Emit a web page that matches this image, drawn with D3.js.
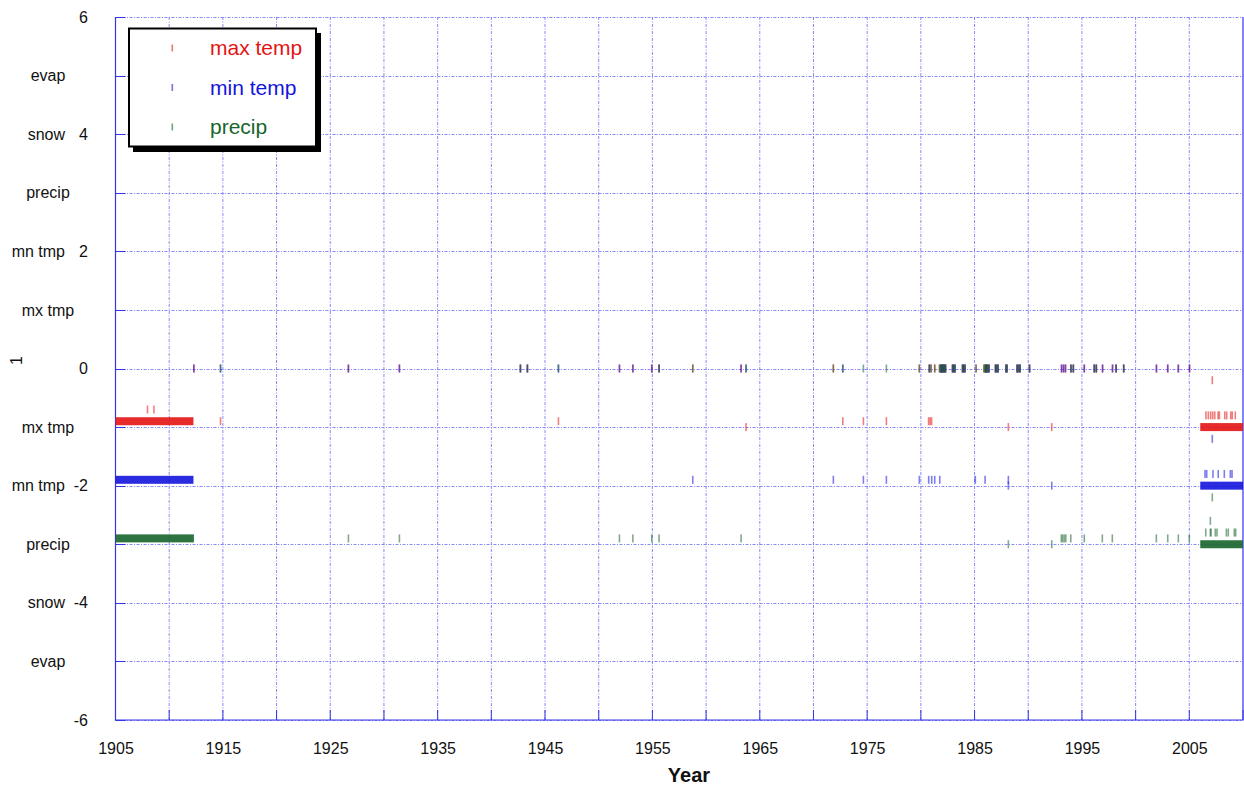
<!DOCTYPE html>
<html>
<head>
<meta charset="utf-8">
<script src="https://cdn.jsdelivr.net/npm/d3@7"></script>
<style>
  body { margin: 0; background: #fff; }
  svg { display: block; font-family: 'Liberation Sans', Arial, Helvetica, sans-serif; }
</style>
</head>
<body>
<div id="chart"></div>
<script>
// axis content
const xDomain = [1905, 2010];
const yDomain = [-6, 6];
const xTickYears = [1905, 1915, 1925, 1935, 1945, 1955, 1965, 1975, 1985, 1995, 2005];
const yTickValues = [-6, -4, -2, 0, 2, 4, 6];
const rowLabelValues = [5, 4, 3, 2, 1, -1, -2, -3, -4, -5];
const rowLabelNames = ['evap', 'snow', 'precip', 'mn tmp', 'mx tmp', 'mx tmp', 'mn tmp', 'precip', 'snow', 'evap'];

const seriesNames = ['max temp', 'min temp', 'precip'];
const seriesColors = ['#e41414', '#1414dc', '#17652c'];

// continuous runs of daily flags: [start, end, value]
const maxTempRuns = [[1905, 1912.26, -0.9], [2006.02, 2010, -1.0]];
const minTempRuns = [[1905, 1912.26, -1.9], [2006.02, 2010, -2.0]];
const precipRuns = [[1905, 1912.3, -2.9], [2006.02, 2010, -3.0]];

// single flags sitting on the zero row
const maxTempZeroYears = [1912.30, 1926.69, 1931.44, 1942.71, 1943.36, 1951.93, 1953.18, 1954.94, 1955.62,
  1958.76, 1963.26, 1971.85, 1979.86, 1980.79, 1980.95, 1981.29, 1981.74, 1981.85, 1981.93, 1982.02,
  1982.11, 1982.20, 1982.30, 1982.95, 1983.05, 1983.18, 1983.88, 1983.98, 1984.11, 1985.14, 1985.88,
  1985.98, 1986.05, 1986.12, 1986.22, 1986.35, 1986.95, 1987.05, 1987.19, 1987.93, 1988.02, 1988.96,
  1989.10, 1989.24, 1990.12, 1993.10, 1993.29, 1993.47, 1993.98, 1994.20, 1995.22, 1996.15, 1996.34,
  1996.92, 1997.85, 1998.18, 1998.89, 2001.94, 2002.99, 2003.98, 2005.02];
const minTempZeroYears = [1912.30, 1914.78, 1926.69, 1931.44, 1942.71, 1943.36, 1946.25, 1951.93, 1953.18,
  1954.94, 1955.62, 1963.26, 1963.72, 1972.73, 1980.79, 1981.85, 1981.93, 1982.02, 1982.11, 1982.20,
  1982.30, 1982.95, 1983.05, 1983.18, 1983.88, 1983.98, 1984.11, 1986.05, 1986.12, 1986.22, 1986.35,
  1986.95, 1987.05, 1987.19, 1987.93, 1988.02, 1988.96, 1989.10, 1989.24, 1990.12, 1993.10, 1993.29,
  1993.47, 1993.98, 1994.20, 1995.22, 1996.15, 1996.34, 1996.92, 1997.85, 1998.18, 1998.89, 2001.94,
  2002.99, 2003.98, 2005.02];
const precipZeroYears = [1914.78, 1942.71, 1943.36, 1946.25, 1955.62, 1958.76, 1963.72, 1971.85, 1972.73,
  1974.65, 1976.79, 1979.86, 1980.79, 1980.95, 1981.29, 1981.74, 1981.85, 1981.93, 1982.02, 1982.11,
  1982.20, 1982.30, 1982.95, 1983.05, 1983.18, 1983.88, 1983.98, 1984.11, 1985.14, 1985.88, 1985.98,
  1986.05, 1986.12, 1986.22, 1986.35, 1986.95, 1987.05, 1987.19, 1987.93, 1988.02, 1988.96, 1989.10,
  1989.24, 1990.12, 1993.98, 1994.20, 1996.15, 1996.34, 1998.18, 1998.89];

// single flags away from zero: [year, value]
const maxTempFlags = [[1907.98, -0.7], [1908.58, -0.7], [1914.78, -0.9], [1946.25, -0.9], [1963.72, -1.0],
  [1972.73, -0.9], [1974.65, -0.9], [1976.79, -0.9], [1980.72, -0.9], [1980.86, -0.9], [1981.0, -0.9],
  [1988.15, -1.0], [1992.19, -1.0], [2007.14, -0.2],
  [2006.55, -0.8], [2006.77, -0.8], [2006.99, -0.8], [2007.18, -0.8], [2007.37, -0.8], [2007.68, -0.8],
  [2007.80, -0.8], [2008.30, -0.8], [2008.48, -0.8], [2008.86, -0.8], [2009.00, -0.8], [2009.28, -0.8]];
const minTempFlags = [[1958.76, -1.9], [1971.85, -1.9], [1974.65, -1.9], [1976.79, -1.9], [1979.86, -1.9],
  [1980.73, -1.9], [1981.01, -1.9], [1981.29, -1.9], [1981.76, -1.9], [1985.07, -1.9], [1985.98, -1.9],
  [1988.15, -1.9], [1988.15, -2.0], [1992.19, -2.0], [2007.14, -1.2],
  [2006.46, -1.8], [2006.62, -1.8], [2007.20, -1.8], [2007.69, -1.8], [2008.26, -1.8], [2008.82, -1.8],
  [2008.98, -1.8]];
const precipFlags = [[1926.69, -2.9], [1931.44, -2.9], [1951.93, -2.9], [1953.18, -2.9], [1954.94, -2.9],
  [1955.62, -2.9], [1963.26, -2.9], [1988.15, -3.0], [1992.19, -3.0], [1993.08, -2.9], [1993.20, -2.9],
  [1993.35, -2.9], [1993.50, -2.9], [1993.96, -2.9], [1995.22, -2.9], [1996.90, -2.9], [1997.83, -2.9],
  [2001.93, -2.9], [2002.99, -2.9], [2003.98, -2.9], [2005.00, -2.9], [2006.96, -2.6], [2007.14, -2.2],
  [2006.53, -2.8], [2006.96, -2.8], [2007.02, -2.8], [2007.42, -2.8], [2007.58, -2.8], [2008.45, -2.8],
  [2008.63, -2.8], [2009.19, -2.8], [2009.32, -2.8]];

const width = 1244;
const height = 786;
const plot = { left: 115.5, right: 1243, top: 17, bottom: 720 };
const gridColor = '#6a6af2';
const frameColor = '#3434e6';
const fontFamily = "'Liberation Sans', Arial, sans-serif";

const svg = d3.select('#chart').append('svg')
  .attr('width', width)
  .attr('height', height);

const x = d3.scaleLinear().domain(xDomain).range([plot.left, plot.right]);
const y = d3.scaleLinear().domain(yDomain).range([plot.bottom, plot.top]);

// grid
const grid = svg.append('g').attr('class', 'grid');
grid.selectAll('.grid-y').data(y.ticks(12))
  .join('line')
  .attr('class', 'grid-y')
  .attr('x1', plot.left).attr('x2', plot.right)
  .attr('y1', (d) => Math.round(y(d)) + 0.5).attr('y2', (d) => Math.round(y(d)) + 0.5)
  .attr('stroke', gridColor)
  .attr('stroke-width', 0.8)
  .attr('stroke-dasharray', '3,1.5,1,1.5');

grid.selectAll('.grid-x').data(x.ticks(21).filter((d) => d > xDomain[0] && d < xDomain[1]))
  .join('line')
  .attr('class', 'grid-x')
  .attr('y1', plot.top).attr('y2', plot.bottom)
  .attr('x1', (d) => x(d)).attr('x2', (d) => x(d))
  .attr('stroke', gridColor)
  .attr('stroke-width', 0.8)
  .attr('stroke-dasharray', '3,1.5,1,1.5');

// short inner ticks
grid.selectAll('.tick-y').data(y.ticks(12))
  .join('line')
  .attr('x1', plot.left).attr('x2', plot.left + 10)
  .attr('y1', (d) => Math.round(y(d)) + 0.5).attr('y2', (d) => Math.round(y(d)) + 0.5)
  .attr('stroke', frameColor).attr('stroke-width', 1);
grid.selectAll('.tick-x').data(x.ticks(21))
  .join('line')
  .attr('y1', plot.bottom).attr('y2', plot.bottom - 10)
  .attr('x1', (d) => x(d)).attr('x2', (d) => x(d))
  .attr('stroke', frameColor).attr('stroke-width', 1);

// frame: solid left, bottom, right
svg.append('path')
  .attr('d', `M${plot.left},${plot.top}V${plot.bottom}H${plot.right}V${plot.top}`)
  .attr('fill', 'none')
  .attr('stroke', frameColor)
  .attr('stroke-width', 1.2);

// marks
const marks = svg.append('g').attr('class', 'marks');
const runSets = [maxTempRuns, minTempRuns, precipRuns];
const zeroSets = [maxTempZeroYears, minTempZeroYears, precipZeroYears];
const flagSets = [maxTempFlags, minTempFlags, precipFlags];
const tickHalf = 4;

seriesNames.forEach((name, i) => {
  const g = marks.append('g').attr('class', `series-${i}`);
  g.selectAll('rect.run').data(runSets[i])
    .join('rect')
    .attr('class', 'run')
    .attr('x', (d) => x(d[0]))
    .attr('width', (d) => x(d[1]) - x(d[0]))
    .attr('y', (d) => y(d[2]) - tickHalf)
    .attr('height', tickHalf * 2)
    .attr('fill', seriesColors[i])
    .attr('opacity', 0.9);

  const points = zeroSets[i].map((yr) => [yr, 0]).concat(flagSets[i]);
  g.selectAll('rect.flag').data(points)
    .join('rect')
    .attr('class', 'flag')
    .attr('x', (d) => x(d[0]) - 0.8)
    .attr('width', 1.6)
    .attr('y', (d) => y(d[1]) - tickHalf)
    .attr('height', tickHalf * 2)
    .attr('fill', seriesColors[i])
    .attr('opacity', 0.55);
});

// axes text
const xAxis = svg.append('g')
  .attr('transform', `translate(0,${plot.bottom + 20})`)
  .call(d3.axisBottom(x).tickValues(xTickYears).tickFormat((d) => String(d)).tickSize(0));
xAxis.select('.domain').remove();
xAxis.selectAll('text')
  .attr('font-size', 16)
  .attr('font-family', fontFamily)
  .attr('fill', '#111');

const yAxis = svg.append('g')
  .attr('transform', 'translate(88,0)')
  .call(d3.axisLeft(y).tickValues(yTickValues).tickFormat((d) => String(d)).tickSize(0).tickPadding(0));
yAxis.select('.domain').remove();
yAxis.selectAll('text')
  .attr('font-size', 16)
  .attr('font-family', fontFamily)
  .attr('fill', '#111');

svg.append('g').selectAll('text').data(rowLabelValues)
  .join('text')
  .attr('x', (d) => (d % 2 === 0 ? 65 : 48))
  .attr('y', (d) => y(d))
  .attr('dy', '0.35em')
  .attr('text-anchor', (d) => (d % 2 === 0 ? 'end' : 'middle'))
  .attr('font-size', 16)
  .attr('fill', '#111')
  .text((d, i) => rowLabelNames[i]);

svg.append('text')
  .attr('transform', `translate(22,${y(0) - 8}) rotate(-90)`)
  .attr('text-anchor', 'middle')
  .attr('font-size', 16)
  .attr('fill', '#111')
  .text('1');

svg.append('text')
  .attr('x', 689)
  .attr('y', 782)
  .attr('text-anchor', 'middle')
  .attr('font-size', 20)
  .attr('font-weight', 'bold')
  .attr('fill', '#111')
  .text('Year');

// legend
const legend = svg.append('g').attr('class', 'legend');
legend.append('rect')
  .attr('x', 133).attr('y', 33).attr('width', 188).attr('height', 119)
  .attr('fill', '#000');
legend.append('rect')
  .attr('x', 129).attr('y', 28.5).attr('width', 187).attr('height', 118)
  .attr('fill', '#fff')
  .attr('stroke', '#000')
  .attr('stroke-width', 2);

const legendItems = legend.selectAll('g.item').data(seriesNames)
  .join('g')
  .attr('class', 'item')
  .attr('transform', (d, i) => `translate(0,${48 + i * 39.5})`);
legendItems.append('rect')
  .attr('x', 171.5).attr('y', -3.5).attr('width', 1.6).attr('height', 7)
  .attr('fill', (d, i) => seriesColors[i])
  .attr('opacity', 0.6);
legendItems.append('text')
  .attr('x', 210)
  .attr('dy', '0.35em')
  .attr('font-size', 21)
  .attr('fill', (d, i) => seriesColors[i])
  .text((d) => d);
</script>
</body>
</html>
